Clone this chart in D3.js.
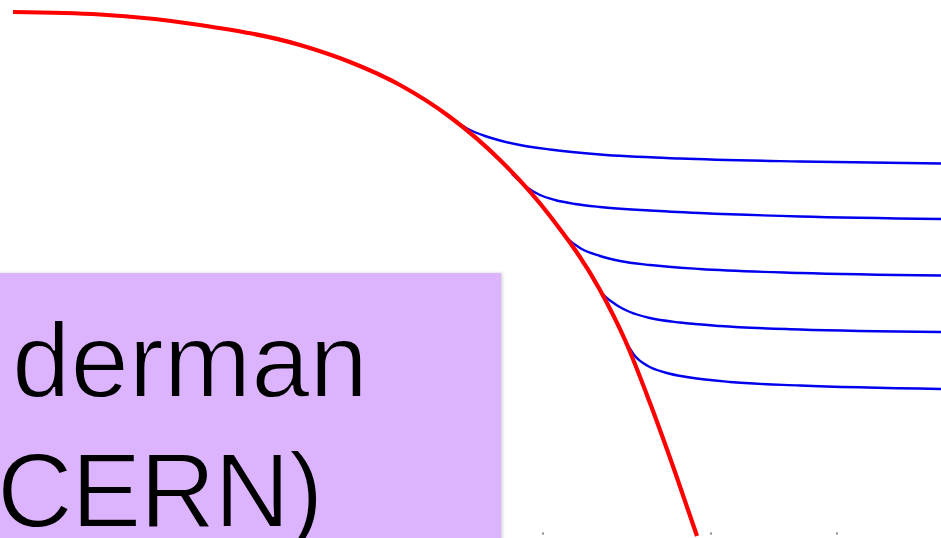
<!DOCTYPE html>
<html>
<head>
<meta charset="utf-8">
<script src="https://cdn.jsdelivr.net/npm/d3@7"></script>
<style>
  html, body { margin: 0; padding: 0; background: #fff; overflow: hidden; }
  svg { display: block; }
</style>
</head>
<body>
<svg id="chart" width="941" height="538"></svg>
<script>
// ---- data (abstract units: x 0..94.1, y 0..53.8, y up) ----
const redCurve = [
  [1.3, 52.6], [10, 52.35], [20, 51.3], [30, 49.3], [35, 47.6], [40, 45.3],
  [45, 42.1], [50, 37.8], [55, 32.2], [60, 24.8], [62.5, 19.8], [65, 13.5],
  [67.5, 6.6], [69.7, 0.2]
];
const blueCurves = [
  [[45.5, 41.7], [47, 40.8], [48.5, 40.2], [50, 39.75], [52, 39.3], [55, 38.85], [60, 38.35], [68, 37.95], [80, 37.65], [94.1, 37.45]],
  [[51.2, 36.4], [52.5, 35.2], [54, 34.3], [55.5, 33.8], [57.5, 33.4], [60, 33.1], [65, 32.75], [70, 32.5], [80, 32.15], [94.1, 31.9]],
  [[55.5, 31.5], [56.7, 30.0], [58, 29.0], [60, 28.2], [62, 27.7], [65, 27.3], [70, 26.9], [80, 26.5], [94.1, 26.25]],
  [[59.2, 26.1], [60.2, 24.5], [61.5, 23.4], [63, 22.6], [65, 22.0], [68, 21.55], [72, 21.2], [80, 20.85], [94.1, 20.6]],
  [[62.5, 19.8], [63.5, 18.2], [64.8, 17.2], [66.5, 16.55], [69, 16.05], [73, 15.6], [80, 15.25], [94.1, 14.9]]
];
const tickValues = [54.3, 71.1, 83.7];
const labelLines = ["derman", "CERN)"];

// ---- scales ----
const W = 941, H = 538;
const x = d3.scaleLinear().domain([0, 94.1]).range([0, W]);
const y = d3.scaleLinear().domain([0, 53.8]).range([H, 0]);

const svg = d3.select("#chart");

// purple label box
const boxX0 = 0, boxX1 = 50.1, boxTop = 26.5;
const boxColor = "#dbb4fd";
const defs = svg.append("defs");
const f = defs.append("filter").attr("id", "sh").attr("x", "-5%").attr("y", "-5%").attr("width", "115%").attr("height", "115%");
f.append("feDropShadow").attr("dx", 1.5).attr("dy", 0).attr("stdDeviation", 1.5).attr("flood-color", "#000").attr("flood-opacity", 0.18);

svg.append("rect")
  .attr("x", x(boxX0) - 5)
  .attr("y", y(boxTop))
  .attr("width", x(boxX1) - x(boxX0) + 5)
  .attr("height", H - y(boxTop) + 10)
  .attr("fill", boxColor)
  .attr("filter", "url(#sh)");

const labelX = [1.2, -0.3];
const labelY = [14.1, 1.1];
const labelSpacing = [0, -1.5];
svg.selectAll("text.lbl").data(labelLines).join("text")
  .attr("class", "lbl")
  .attr("x", (d, i) => x(labelX[i]))
  .attr("y", (d, i) => y(labelY[i]))
  .attr("font-family", "'Liberation Sans', Helvetica, Arial, sans-serif")
  .attr("font-size", 105)
  .attr("letter-spacing", (d, i) => labelSpacing[i])
  .attr("fill", "#000")
  .attr("stroke", boxColor)
  .attr("stroke-width", 1.8)
  .text(d => d);

// small axis tick marks
svg.append("g")
  .selectAll("rect.tk").data(tickValues).join("rect")
  .attr("class", "tk")
  .attr("x", d => x(d) - 1)
  .attr("y", y(0.55))
  .attr("width", 2).attr("height", 2)
  .attr("fill", "#8a8a8a");

const line = d3.line().x(d => x(d[0])).y(d => y(d[1])).curve(d3.curveMonotoneX);

// blue curves
svg.append("g").selectAll("path.blue").data(blueCurves).join("path")
  .attr("class", "blue")
  .attr("d", line)
  .attr("fill", "none")
  .attr("stroke", "#0000ee")
  .attr("stroke-width", 2.4);

// red curve
svg.append("path")
  .datum(redCurve)
  .attr("d", line)
  .attr("fill", "none")
  .attr("stroke", "#ff0000")
  .attr("stroke-width", 4.2);
</script>
</body>
</html>
